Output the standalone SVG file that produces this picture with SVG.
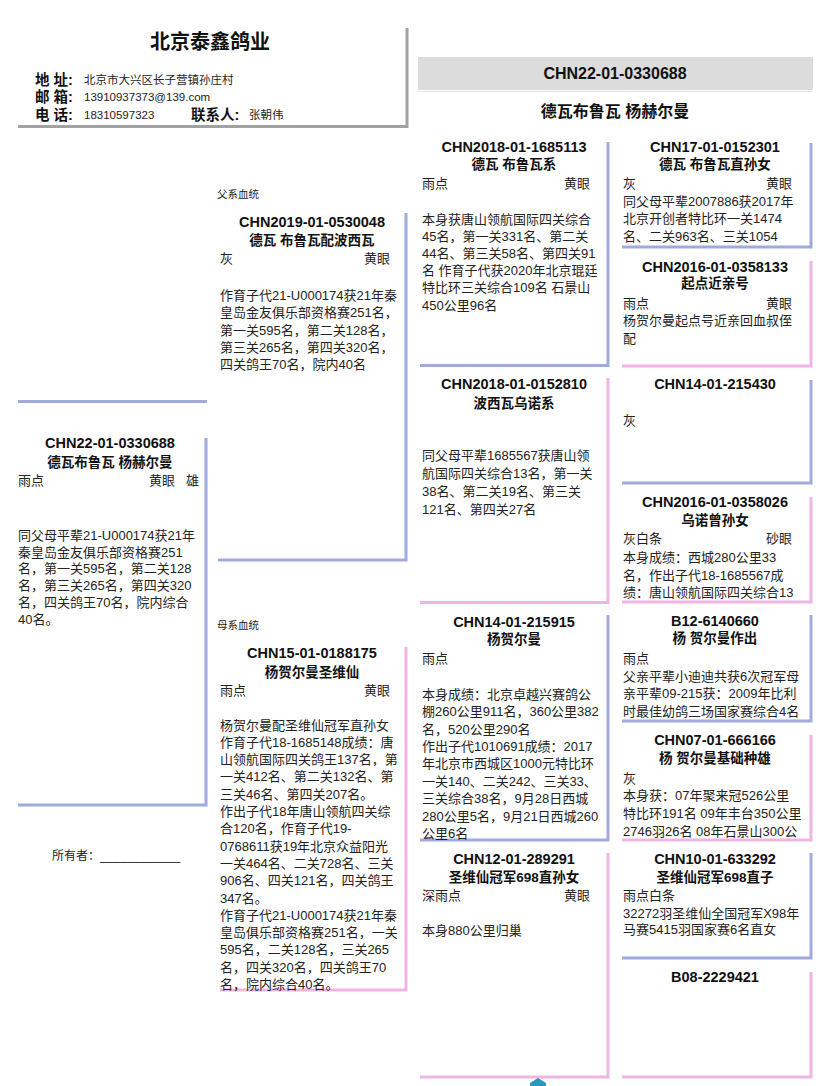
<svg xmlns="http://www.w3.org/2000/svg" width="828" height="1086" viewBox="0 0 828 1086">
<style>
text{font-family:"Liberation Sans","Noto Sans CJK SC",sans-serif;fill:#222}
.id{font-size:14.5px;font-weight:bold;text-anchor:middle;fill:#111}
.nm{font-size:13.5px;font-weight:bold;text-anchor:middle;fill:#111}
.tx{font-size:13px}
.r{text-anchor:end}
.sm{font-size:10.5px}
.lb{font-size:14.5px;font-weight:bold;fill:#111}
.v{font-size:11.5px}
.bl{fill:none;stroke:#a0aadc;stroke-width:3}
.pk{fill:none;stroke:#efb5e4;stroke-width:3}
.gr{fill:none;stroke:#a2a2a2;stroke-width:3}
</style>
<rect width="828" height="1086" fill="#fff"/>

<g id="header">
<path class="gr" d="M18 126.5 H407 V28"/>
<text x="210" y="49" style="font-size:20px;font-weight:bold;text-anchor:middle;fill:#111">北京泰鑫鸽业</text>
<text class="lb" x="35" y="85">地 址:</text>
<text class="v" x="84" y="84">北京市大兴区长子营镇孙庄村</text>
<text class="lb" x="35" y="102">邮 箱:</text>
<text class="v" x="84" y="101">13910937373@139.com</text>
<text class="lb" x="35" y="120">电 话:</text>
<text class="v" x="84" y="119">18310597323</text>
<text class="lb" x="191" y="120">联系人:</text>
<text class="v" x="249" y="119">张朝伟</text>
</g>

<g id="title">
<rect x="418" y="57" width="395" height="33" fill="#dcdcdc"/>
<line x1="418" y1="91.5" x2="813" y2="91.5" stroke="#e6e6e6" stroke-width="1"/>
<text x="615" y="79" style="font-size:16px;font-weight:bold;text-anchor:middle;fill:#111">CHN22-01-0330688</text>
<text x="615" y="117" style="font-size:16px;font-weight:bold;text-anchor:middle;fill:#111">德瓦布鲁瓦 杨赫尔曼</text>
</g>

<g id="connectors"></g>

<g id="photo">
<path class="bl" d="M18 401.5 H207"/>
</g>

<g id="subject">
<path class="bl" d="M18 805 H206 V438"/>
<text class="id" x="110" y="448">CHN22-01-0330688</text>
<text class="nm" x="110" y="466.5">德瓦布鲁瓦 杨赫尔曼</text>
<text class="tx" x="18" y="485">雨点</text>
<text class="tx r" x="175" y="485">黄眼</text>
<text class="tx r" x="199" y="485">雄</text>
<text class="tx" x="18" y="540">同父母平辈21-U000174获21年</text>
<text class="tx" x="18" y="556.5">秦皇岛金友俱乐部资格赛251</text>
<text class="tx" x="18" y="573">名，第一关595名，第二关128</text>
<text class="tx" x="18" y="590">名，第三关265名，第四关320</text>
<text class="tx" x="18" y="606.5">名，四关鸽王70名，院内综合</text>
<text class="tx" x="18" y="624">40名。</text>
</g>

<g id="owner">
<text x="52" y="860" style="font-size:12px">所有者：____________</text>
</g>

<g id="sire">
<text class="sm" x="217" y="198">父系血统</text>
<path class="bl" d="M218 560 H406 V213"/>
<text class="id" x="312" y="227">CHN2019-01-0530048</text>
<text class="nm" x="312" y="245">德瓦 布鲁瓦配波西瓦</text>
<text class="tx" x="220" y="263">灰</text>
<text class="tx r" x="390" y="263">黄眼</text>
<text class="tx" x="220" y="300">作育子代21-U000174获21年秦</text>
<text class="tx" x="220" y="317">皇岛金友俱乐部资格赛251名，</text>
<text class="tx" x="220" y="334.5">第一关595名，第二关128名，</text>
<text class="tx" x="220" y="352">第三关265名，第四关320名，</text>
<text class="tx" x="220" y="369">四关鸽王70名，院内40名</text>
</g>

<g id="dam">
<text class="sm" x="217" y="629">母系血统</text>
<path class="pk" d="M220 990 H406 V647"/>
<text class="id" x="312" y="658">CHN15-01-0188175</text>
<text class="nm" x="312" y="676.5">杨贺尔曼圣维仙</text>
<text class="tx" x="220" y="694.5">雨点</text>
<text class="tx r" x="390" y="694.5">黄眼</text>
<text class="tx" x="220" y="729.5">杨贺尔曼配圣维仙冠军直孙女</text>
<text class="tx" x="220" y="746.8">作育子代18-1685148成绩：唐</text>
<text class="tx" x="220" y="764.1">山领航国际四关鸽王137名，第</text>
<text class="tx" x="220" y="781.4">一关412名、第二关132名、第</text>
<text class="tx" x="220" y="798.7">三关46名、第四关207名。</text>
<text class="tx" x="220" y="816">作出子代18年唐山领航四关综</text>
<text class="tx" x="220" y="833.3">合120名，作育子代19-</text>
<text class="tx" x="220" y="850.6">0768611获19年北京众益阳光</text>
<text class="tx" x="220" y="867.9">一关464名、二关728名、三关</text>
<text class="tx" x="220" y="885.2">906名、四关121名，四关鸽王</text>
<text class="tx" x="220" y="902.5">347名。</text>
<text class="tx" x="220" y="919.8">作育子代21-U000174获21年秦</text>
<text class="tx" x="220" y="937.1">皇岛俱乐部资格赛251名，一关</text>
<text class="tx" x="220" y="954.4">595名，二关128名，三关265</text>
<text class="tx" x="220" y="971.7">名，四关320名，四关鸽王70</text>
<text class="tx" x="220" y="989">名，院内综合40名。</text>
</g>

<g id="ss">
<path class="bl" d="M420 365.5 H608 V142"/>
<text class="id" x="514" y="152">CHN2018-01-1685113</text>
<text class="nm" x="514" y="169">德瓦 布鲁瓦系</text>
<text class="tx" x="422" y="188">雨点</text>
<text class="tx r" x="590" y="188">黄眼</text>
<text class="tx" x="422" y="224">本身获唐山领航国际四关综合</text>
<text class="tx" x="422" y="241">45名，第一关331名、第二关</text>
<text class="tx" x="422" y="258">44名、第三关58名、第四关91</text>
<text class="tx" x="422" y="275">名 作育子代获2020年北京琨廷</text>
<text class="tx" x="422" y="292">特比环三关综合109名 石景山</text>
<text class="tx" x="422" y="309.5">450公里96名</text>
</g>

<g id="sd">
<path class="pk" d="M420 602.5 H608 V378"/>
<text class="id" x="514" y="389">CHN2018-01-0152810</text>
<text class="nm" x="514" y="407.5">波西瓦乌诺系</text>
<text class="tx" x="422" y="460">同父母平辈1685567获唐山领</text>
<text class="tx" x="422" y="477.5">航国际四关综合13名，第一关</text>
<text class="tx" x="422" y="495.5">38名、第二关19名、第三关</text>
<text class="tx" x="422" y="513.5">121名、第四关27名</text>
</g>

<g id="ds">
<path class="bl" d="M420 840 H608 V615"/>
<text class="id" x="514" y="626.5">CHN14-01-215915</text>
<text class="nm" x="514" y="644">杨贺尔曼</text>
<text class="tx" x="422" y="662.5">雨点</text>
<text class="tx" x="422" y="698.5">本身成绩：北京卓越兴赛鸽公</text>
<text class="tx" x="422" y="716">棚260公里911名，360公里382</text>
<text class="tx" x="422" y="733.5">名，520公里290名</text>
<text class="tx" x="422" y="751">作出子代1010691成绩：2017</text>
<text class="tx" x="422" y="768">年北京市西城区1000元特比环</text>
<text class="tx" x="422" y="785.5">一关140、二关242、三关33、</text>
<text class="tx" x="422" y="803">三关综合38名，9月28日西城</text>
<text class="tx" x="422" y="820.5">280公里5名，9月21日西城260</text>
<text class="tx" x="422" y="837.5">公里6名</text>
</g>

<g id="dd">
<path class="pk" d="M420 1077 H608 V853"/>
<text class="id" x="514" y="864">CHN12-01-289291</text>
<text class="nm" x="514" y="881.5">圣维仙冠军698直孙女</text>
<text class="tx" x="422" y="899.5">深雨点</text>
<text class="tx r" x="590" y="899.5">黄眼</text>
<text class="tx" x="422" y="935">本身880公里归巢</text>
</g>

<g id="sss">
<path class="bl" d="M622 247 H811 V143"/>
<text class="id" x="715" y="151.5">CHN17-01-0152301</text>
<text class="nm" x="715" y="169">德瓦 布鲁瓦直孙女</text>
<text class="tx" x="623" y="187.5">灰</text>
<text class="tx r" x="792" y="187.5">黄眼</text>
<text class="tx" x="623" y="205.5">同父母平辈2007886获2017年</text>
<text class="tx" x="623" y="223">北京开创者特比环一关1474</text>
<text class="tx" x="623" y="240.5">名、二关963名、三关1054</text>
</g>

<g id="ssd">
<path class="pk" d="M622 366 H811 V261"/>
<text class="id" x="715" y="271.5">CHN2016-01-0358133</text>
<text class="nm" x="715" y="288">起点近亲号</text>
<text class="tx" x="623" y="307.5">雨点</text>
<text class="tx r" x="792" y="307.5">黄眼</text>
<text class="tx" x="623" y="325">杨贺尔曼起点号近亲回血叔侄</text>
<text class="tx" x="623" y="342.5">配</text>
</g>

<g id="sds">
<path class="bl" d="M622 483 H811 V380"/>
<text class="id" x="715" y="389">CHN14-01-215430</text>
<text class="tx" x="623" y="424.5">灰</text>
</g>

<g id="sdd">
<path class="pk" d="M622 602 H811 V497"/>
<text class="id" x="715" y="507">CHN2016-01-0358026</text>
<text class="nm" x="715" y="525">乌诺曾孙女</text>
<text class="tx" x="623" y="543">灰白条</text>
<text class="tx r" x="792" y="543">砂眼</text>
<text class="tx" x="623" y="561.5">本身成绩：西城280公里33</text>
<text class="tx" x="623" y="579.5">名，作出子代18-1685567成</text>
<text class="tx" x="623" y="597">绩：唐山领航国际四关综合13</text>
</g>

<g id="dss">
<path class="bl" d="M622 721 H811 V615"/>
<text class="id" x="715" y="625.5">B12-6140660</text>
<text class="nm" x="715" y="643">杨 贺尔曼作出</text>
<text class="tx" x="623" y="662.5">雨点</text>
<text class="tx" x="623" y="680.5">父亲平辈小迪迪共获6次冠军母</text>
<text class="tx" x="623" y="698">亲平辈09-215获：2009年比利</text>
<text class="tx" x="623" y="716">时最佳幼鸽三场国家赛综合4名</text>
</g>

<g id="dsd">
<path class="pk" d="M622 840 H811 V735"/>
<text class="id" x="715" y="745">CHN07-01-666166</text>
<text class="nm" x="715" y="763">杨 贺尔曼基础种雄</text>
<text class="tx" x="623" y="782.5">灰</text>
<text class="tx" x="623" y="800">本身获：07年聚来冠526公里</text>
<text class="tx" x="623" y="817.5">特比环191名 09年丰台350公里</text>
<text class="tx" x="623" y="835.5">2746羽26名 08年石景山300公</text>
</g>

<g id="dds">
<path class="bl" d="M622 958 H811 V853"/>
<text class="id" x="715" y="864">CHN10-01-633292</text>
<text class="nm" x="715" y="881.5">圣维仙冠军698直子</text>
<text class="tx" x="623" y="899.5">雨点白条</text>
<text class="tx" x="623" y="918">32272羽圣维仙全国冠军X98年</text>
<text class="tx" x="623" y="934">马赛5415羽国家赛6名直女</text>
</g>

<g id="ddd">
<path class="pk" d="M622 1077 H811 V972"/>
<text class="id" x="715" y="981.5">B08-2229421</text>
</g>

<path d="M530 1086 L530 1083 L538 1078 L546 1083 L546 1086 Z" fill="#2a97bd"/>
</svg>
